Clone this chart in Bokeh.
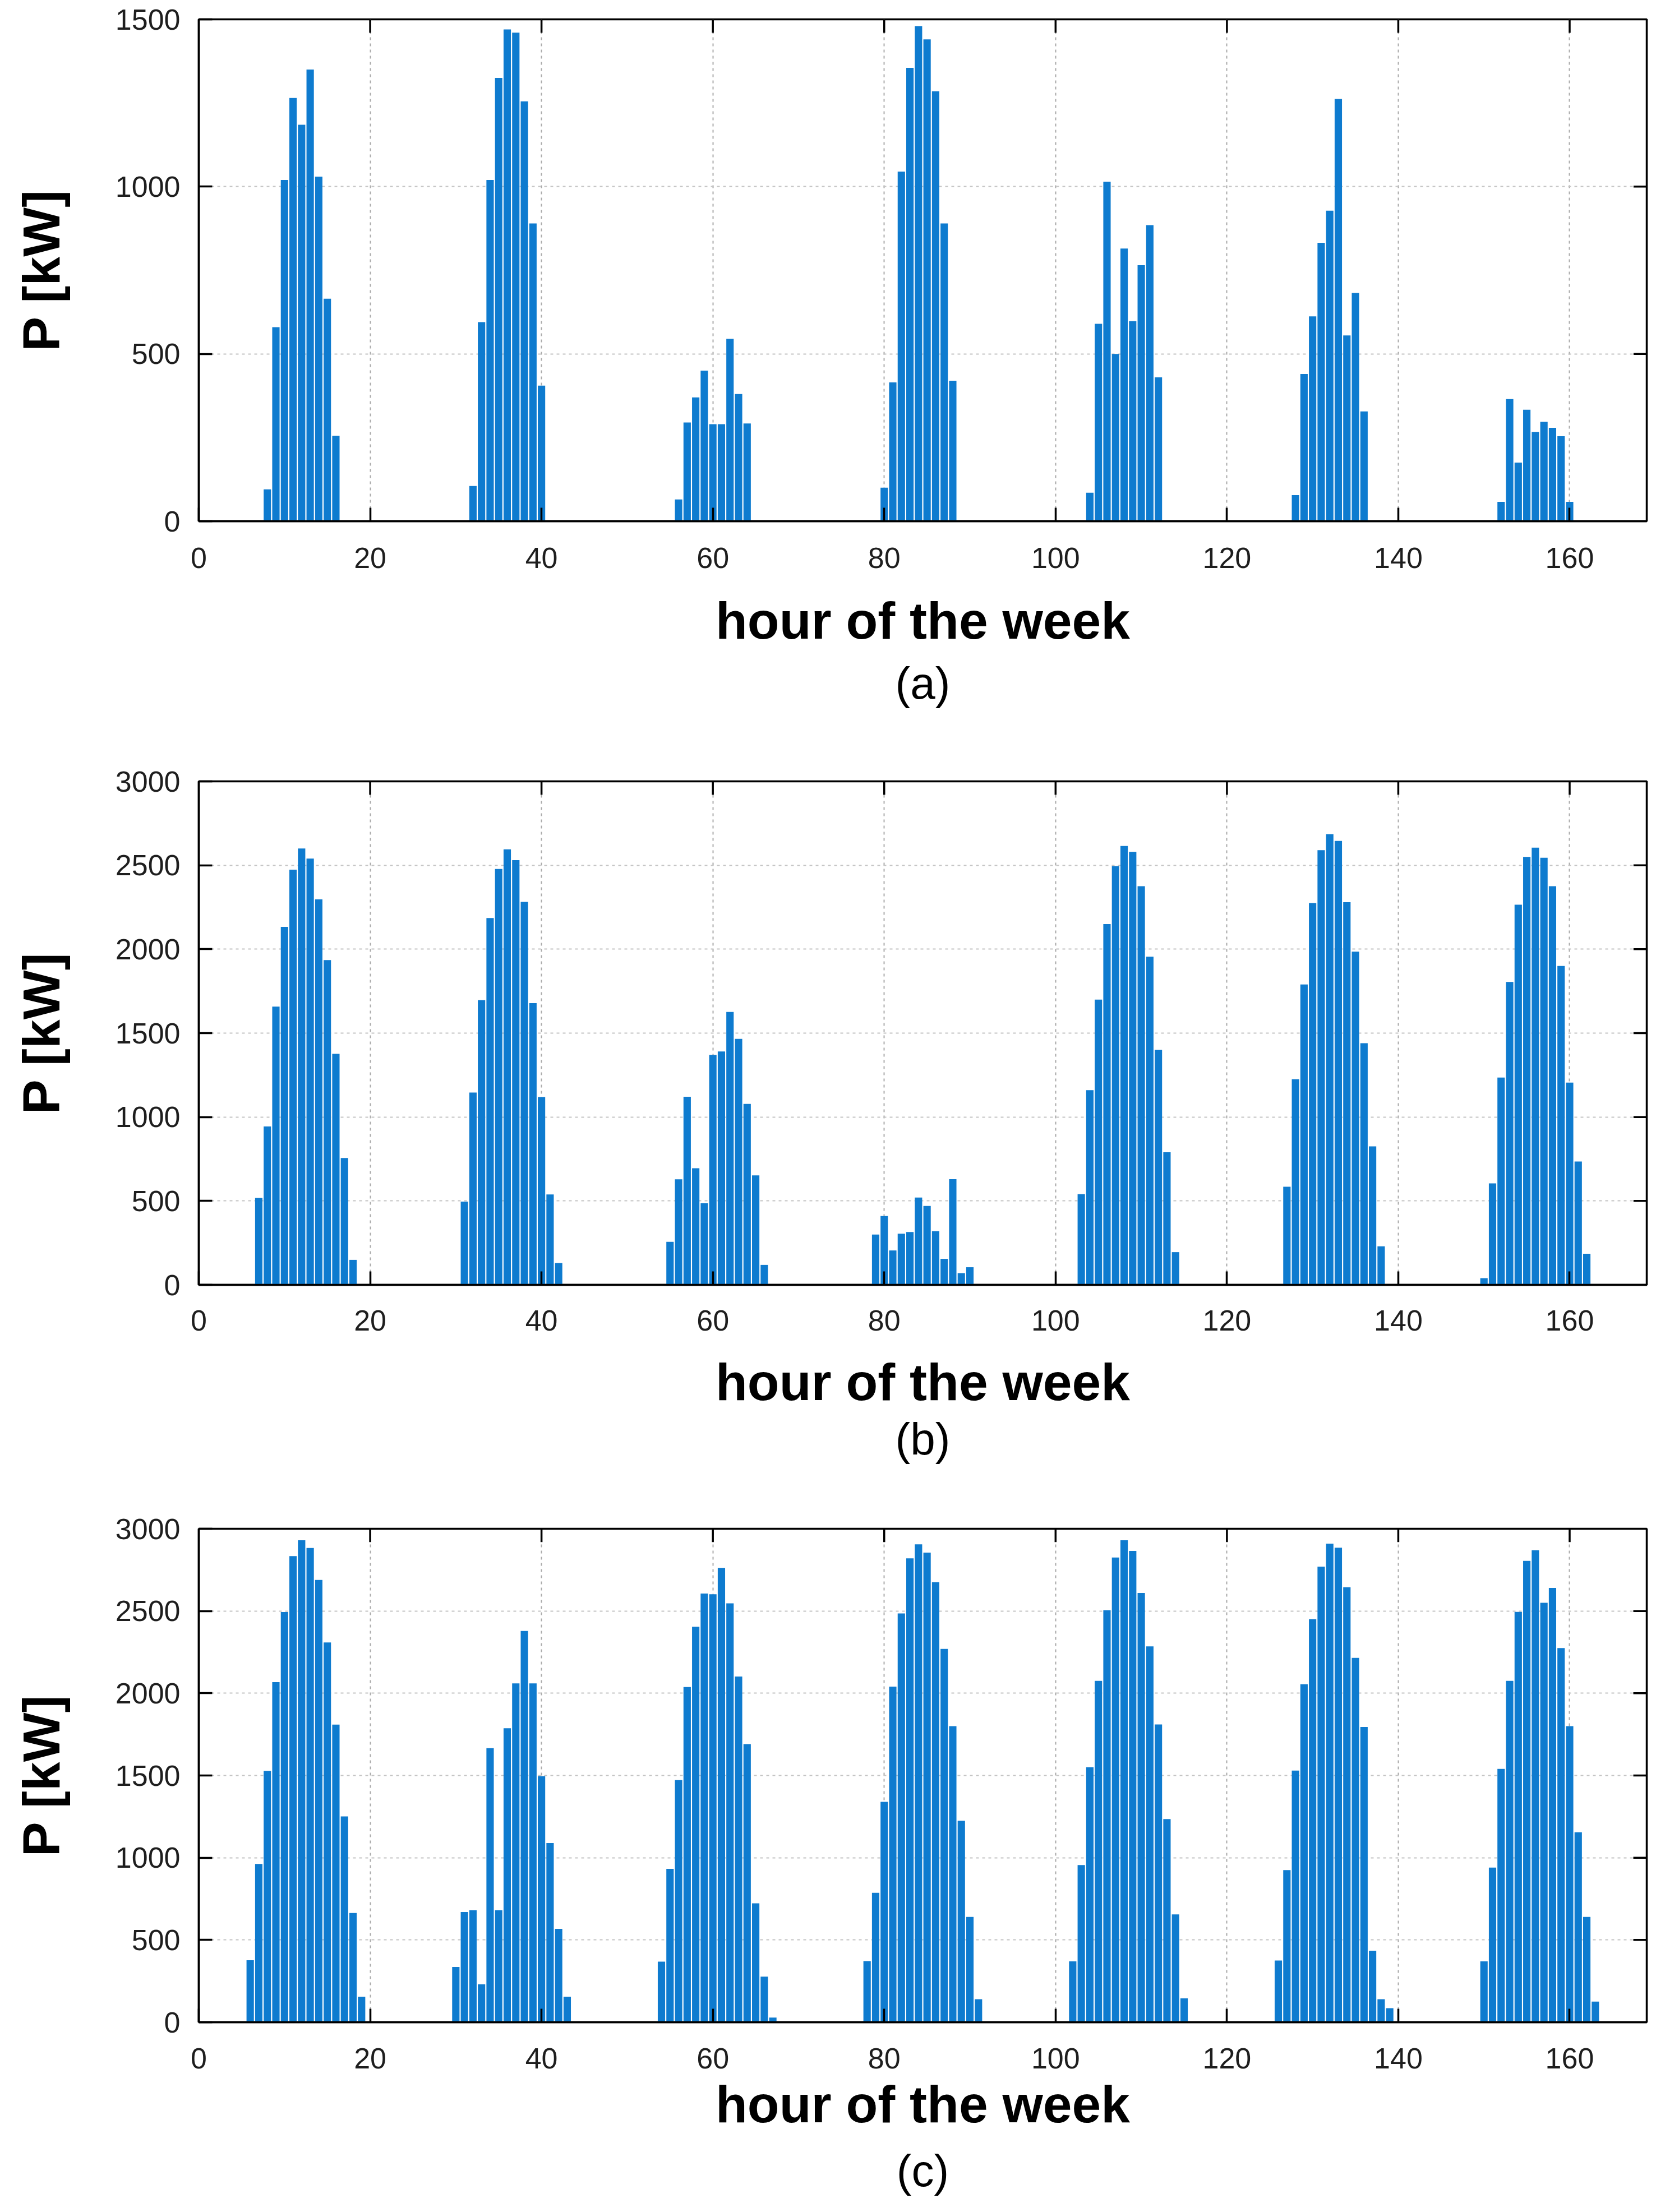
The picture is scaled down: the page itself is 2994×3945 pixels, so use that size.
from bokeh.plotting import figure
from bokeh.models import Range1d, Title, FixedTicker, ColumnDataSource
from bokeh.layouts import column
from bokeh.embed import file_html
from bokeh.resources import INLINE

# ---------------- data ----------------
X_TICKS = [0, 20, 40, 60, 80, 100, 120, 140, 160]
YTICKS_A = [0, 500, 1000, 1500]
YTICKS_BC = [0, 500, 1000, 1500, 2000, 2500, 3000]

# (a) first hour of each daily block and hourly power [kW]
START_A = [8, 32, 56, 80, 104, 128, 152]
POWER_A = [
    [95, 580, 1020, 1265, 1185, 1350, 1030, 665, 255],
    [105, 595, 1020, 1325, 1470, 1460, 1255, 890, 405],
    [65, 295, 370, 450, 290, 290, 545, 380, 292],
    [100, 415, 1045, 1355, 1480, 1440, 1285, 890, 420],
    [85, 590, 1015, 500, 815, 598, 765, 885, 430],
    [78, 440, 612, 832, 928, 1262, 555, 682, 328],
    [58, 365, 175, 333, 267, 297, 279, 254, 58],
]

# (b)
START_B = [7, 31, 55, 79, 103, 127, 150]
POWER_B = [
    [518, 944, 1658, 2133, 2474, 2600, 2540, 2297, 1935, 1376, 756, 149],
    [496, 1146, 1696, 2186, 2478, 2595, 2531, 2282, 1679, 1119, 539, 130],
    [256, 629, 1121, 695, 486, 1370, 1391, 1626, 1466, 1078, 652, 119],
    [300, 410, 205, 305, 315, 520, 470, 320, 155, 630, 70, 105],
    [540, 1160, 1700, 2150, 2495, 2615, 2580, 2375, 1955, 1400, 790, 195],
    [585, 1225, 1790, 2275, 2590, 2685, 2645, 2280, 1985, 1440, 825, 230],
    [40, 605, 1235, 1805, 2265, 2550, 2605, 2545, 2375, 1900, 1205, 735, 185],
]

# (c)
START_C = [6, 30, 54, 78, 102, 126, 150]
POWER_C = [
    [377, 962, 1528, 2068, 2494, 2834, 2930, 2883, 2689, 2309, 1809, 1251, 664, 155],
    [336, 670, 681, 230, 1666, 681, 1787, 2060, 2379, 2060, 1496, 1089, 568, 155],
    [368, 932, 1472, 2038, 2404, 2606, 2602, 2762, 2547, 2102, 1691, 723, 277, 28],
    [372, 787, 1340, 2040, 2485, 2820, 2905, 2855, 2675, 2270, 1800, 1225, 640, 140],
    [370, 955, 1550, 2075, 2505, 2825, 2930, 2865, 2610, 2285, 1810, 1235, 655, 145],
    [375, 925, 1530, 2055, 2450, 2770, 2910, 2885, 2645, 2215, 1795, 435, 140, 85],
    [370, 940, 1540, 2075, 2495, 2805, 2870, 2550, 2640, 2275, 1800, 1155, 640, 125],
]

X_LABEL = "hour of the week"
Y_LABEL = "P [kW]"
TAGS = ["(a)", "(b)", "(c)"]

FONT = "Liberation Sans"
BAR_COLOR = "#0e7bcf"
FIG_W = 2978
XMAX = 169
TICK_LEN = 24


def make_panel(starts, powers, ymax, yticks, tag, height, top, frame_h,
               left, right, tick_standoff, label_standoff, title_standoff):
    xs, tops = [], []
    for s, vals in zip(starts, powers):
        for i, v in enumerate(vals):
            xs.append(s + i)
            tops.append(v)
    src = ColumnDataSource(dict(x=xs, top=tops))

    p = figure(width=FIG_W, height=height, output_backend="svg", toolbar_location=None,
               x_range=Range1d(0, XMAX), y_range=Range1d(0, ymax),
               min_border_left=left, min_border_right=right,
               min_border_top=top, min_border_bottom=height - top - frame_h,
               background_fill_color="white", border_fill_color="white")
    p.outline_line_color = "black"
    p.outline_line_width = 3.5

    p.vbar(x="x", top="top", width=0.86, bottom=0, source=src,
           fill_color=BAR_COLOR, line_color=None)

    # mirrored (box-style) tick marks on the top and right edges
    frame_w = FIG_W - left - right
    dy = TICK_LEN * ymax / frame_h
    dx = TICK_LEN * XMAX / frame_w
    top_ticks = [t for t in X_TICKS if 0 < t < XMAX]
    p.segment(x0=top_ticks, x1=top_ticks, y0=[ymax] * len(top_ticks),
              y1=[ymax - dy] * len(top_ticks), line_color="black", line_width=3.5)
    right_ticks = [t for t in yticks if 0 < t < ymax]
    p.segment(x0=[XMAX] * len(right_ticks), x1=[XMAX - dx] * len(right_ticks),
              y0=right_ticks, y1=right_ticks, line_color="black", line_width=3.5)

    p.xaxis.ticker = FixedTicker(ticks=X_TICKS)
    p.yaxis.ticker = FixedTicker(ticks=yticks)
    for ax in (p.xaxis[0], p.yaxis[0]):
        ax.major_tick_in = TICK_LEN
        ax.major_tick_out = 0
        ax.minor_tick_line_color = None
        ax.axis_line_width = 3.5
        ax.axis_line_color = "black"
        ax.major_tick_line_width = 3.5
        ax.major_tick_line_color = "black"
        ax.major_label_text_font = FONT
        ax.major_label_text_font_size = "52px"
        ax.major_label_text_color = "#1e1e1e"
        ax.axis_label_text_font = FONT
        ax.axis_label_text_font_size = "93px"
        ax.axis_label_text_font_style = "bold"
        ax.axis_label_text_color = "black"
    p.xaxis.axis_label = X_LABEL
    p.yaxis.axis_label = Y_LABEL
    p.xaxis.major_label_standoff = tick_standoff
    p.xaxis.axis_label_standoff = label_standoff
    p.yaxis.major_label_standoff = 33
    p.yaxis.axis_label_standoff = 77

    p.xgrid.grid_line_color = "#a8a8a8"
    p.xgrid.grid_line_dash = "5 6"
    p.xgrid.grid_line_width = 2
    p.ygrid.grid_line_color = "#c4c4c4"
    p.ygrid.grid_line_dash = "5 6"
    p.ygrid.grid_line_width = 2

    t = Title(text=tag, align="center", text_font=FONT, text_font_size="80px",
              text_font_style="normal", text_color="black", standoff=title_standoff)
    p.add_layout(t, "below")
    return p


pa = make_panel(START_A, POWER_A, 1500, YTICKS_A, TAGS[0], 1282, 34, 895,
                337, 13, 47, 39, 20)
pb = make_panel(START_B, POWER_B, 3000, YTICKS_BC, TAGS[1], 1330, 111, 898,
                338, 20, 45, 37, 0)
pc = make_panel(START_C, POWER_C, 3000, YTICKS_BC, TAGS[2], 1320, 114, 887,
                354, 42, 46, 9, 34)

layout = column(pa, pb, pc, spacing=0)
open("out.html", "w").write(file_html(layout, INLINE))
